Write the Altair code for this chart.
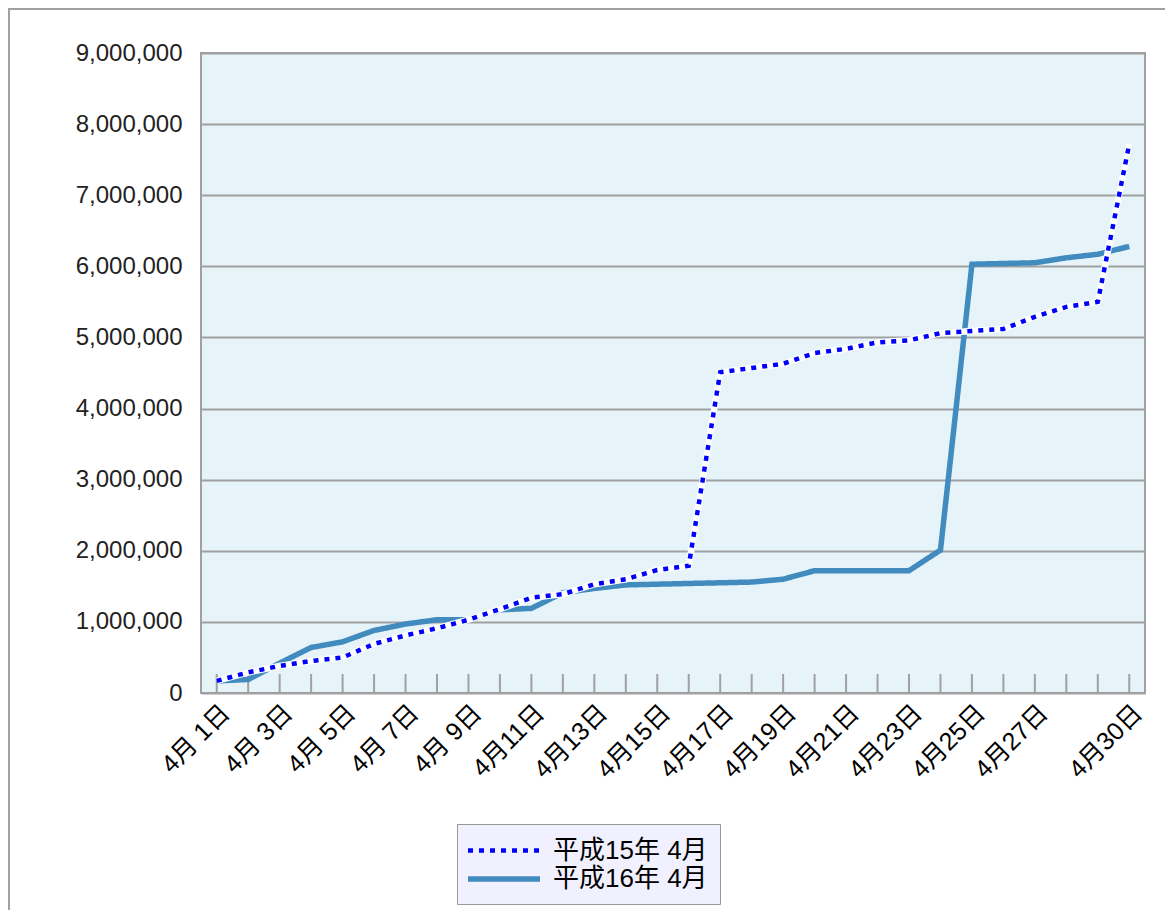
import altair as alt
import pandas as pd

# ---- data ----
days = ["4月 1日", "4月 2日", "4月 3日", "4月 4日", "4月 5日", "4月 6日", "4月 7日",
        "4月 8日", "4月 9日", "4月10日", "4月11日", "4月12日", "4月13日", "4月14日",
        "4月15日", "4月16日", "4月17日", "4月18日", "4月19日", "4月20日", "4月21日",
        "4月22日", "4月23日", "4月24日", "4月25日", "4月26日", "4月27日", "4月28日",
        "4月29日", "4月30日"]
shown_labels = ["4月 1日", "4月 3日", "4月 5日", "4月 7日", "4月 9日", "4月11日",
                "4月13日", "4月15日", "4月17日", "4月19日", "4月21日", "4月23日",
                "4月25日", "4月27日", "4月30日"]
series_names = ["平成15年 4月", "平成16年 4月"]
h15 = [170000, 290000, 380000, 450000, 500000, 690000, 810000, 910000, 1030000, 1180000,
       1340000, 1390000, 1530000, 1600000, 1730000, 1790000, 4510000, 4570000, 4630000, 4780000,
       4840000, 4930000, 4960000, 5060000, 5090000, 5120000, 5290000, 5430000, 5500000, 7720000]
h16 = [170000, 190000, 420000, 640000, 720000, 880000, 970000, 1030000, 1030000, 1170000,
       1190000, 1410000, 1470000, 1520000, 1530000, 1540000, 1550000, 1560000, 1600000, 1720000,
       1720000, 1720000, 1720000, 2010000, 6030000, 6040000, 6050000, 6120000, 6170000, 6280000]
y_ticks = [0, 1000000, 2000000, 3000000, 4000000, 5000000, 6000000, 7000000, 8000000, 9000000]

rows = []
for name, vals in zip(series_names, [h15, h16]):
    for d, v in zip(days, vals):
        rows.append({"day": d, "value": v, "series": name})
df = pd.DataFrame(rows)

W, H = 944, 640
LATIN_CJK = "Liberation Sans, Noto Sans CJK JP"

label_list = "[" + ",".join("'" + s + "'" for s in shown_labels) + "]"

x_enc = alt.X("day:N", sort=days,
              scale=alt.Scale(type="point", domain=days, padding=0.5),
              axis=alt.Axis(title=None, domain=False, ticks=False, grid=False,
                            labelAngle=315, labelAlign="right", labelBaseline="top",
                            labelFont=LATIN_CJK, labelFontSize=25, labelColor="#000000",
                            labelPadding=7, labelOverlap=False,
                            labelExpr="indexof(" + label_list + ", datum.value) >= 0 ? datum.value : ''"))
y_enc = alt.Y("value:Q",
              scale=alt.Scale(domain=[0, 9000000], nice=False, zero=True),
              axis=alt.Axis(title=None, values=y_ticks, format=",.0f", domain=False, ticks=False,
                            grid=True, gridColor="#a0a0a0", gridWidth=2,
                            labelFont="Liberation Sans", labelFontSize=24, labelColor="#222222",
                            labelPadding=19))

legend = alt.Legend(title=None, orient="none", legendX=256, legendY=771,
                    fillColor="#f0f0fe", strokeColor="#999999", padding=12,
                    labelFont=LATIN_CJK, labelFontSize=26, labelColor="#000000",
                    symbolType="M-1.333,0H4.667", symbolSize=576, labelOffset=54, rowPadding=0)

color_enc = alt.Color("series:N", scale=alt.Scale(domain=series_names, range=["#0000ff", "#428bbf"]),
                      legend=legend)
dash_enc = alt.StrokeDash("series:N", scale=alt.Scale(domain=series_names, range=[[5, 6], [1, 0]]),
                          legend=legend)
width_enc = alt.StrokeWidth("series:N", scale=alt.Scale(domain=series_names, range=[4.5, 5.5]),
                            legend=legend)

base = alt.Chart(df)

solid = base.transform_filter(alt.datum.series == series_names[1]).mark_line(
    strokeCap="butt", strokeJoin="miter").encode(
    x=x_enc, y=y_enc, color=color_enc, strokeDash=dash_enc, strokeWidth=width_enc)

halo = base.transform_filter(alt.datum.series == series_names[0]).mark_line(
    color="#ffffff", strokeWidth=6.5).encode(x=alt.X("day:N", sort=days), y="value:Q")

dotted = base.transform_filter(alt.datum.series == series_names[0]).mark_line(
    strokeCap="butt").encode(
    x=alt.X("day:N", sort=days), y="value:Q", color=color_enc, strokeDash=dash_enc,
    strokeWidth=width_enc)

ticks = alt.Chart(pd.DataFrame({"day": days})).mark_rule(color="#a0a0a0", strokeWidth=2).encode(
    x=alt.X("day:N", sort=days), y=alt.value(H - 19), y2=alt.value(H))

border = alt.Chart(alt.Data(values=[{"a": 1}])).mark_rect(
    filled=False, stroke="#a0a0a0", strokeWidth=2).encode(
    x=alt.value(-192), x2=alt.value(1300), y=alt.value(-44), y2=alt.value(1200))

chart = alt.layer(border, ticks, solid, halo, dotted).properties(
    width=W, height=H,
    autosize=alt.AutoSizeParams(type="none"),
    padding={"left": 193, "top": 45, "right": 20, "bottom": 217},
).configure_view(fill="#e6f4fa", stroke="#a0a0a0", strokeWidth=2)

chart.save("out.html", embed_options={"renderer": "svg", "actions": False})
